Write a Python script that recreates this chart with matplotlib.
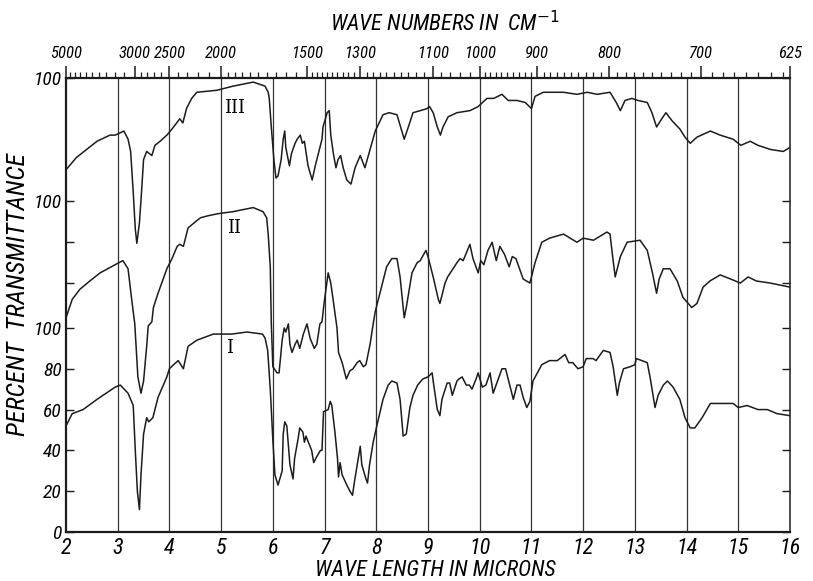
import numpy as np
import matplotlib
matplotlib.use("Agg")
import matplotlib.pyplot as plt
import logging
logging.getLogger("matplotlib.font_manager").setLevel(logging.ERROR)

# --- spectrum I (bottom) : wavelength (microns), % transmittance
wl_1 = [2.0, 2.12, 2.33, 2.6, 2.95, 3.05, 3.2, 3.3, 3.34, 3.38, 3.42, 3.45, 3.5, 3.56,
        3.6, 3.68, 3.78, 3.95, 4.0, 4.08, 4.17, 4.27, 4.36, 4.53, 4.85, 5.2, 5.5, 5.8,
        5.85, 5.9, 5.95, 6.0, 6.04, 6.1, 6.18, 6.2, 6.23, 6.27, 6.33, 6.39, 6.42, 6.49,
        6.52, 6.58, 6.61, 6.64, 6.75, 6.79, 6.85, 6.92, 6.95, 6.98, 7.07, 7.11, 7.14,
        7.2, 7.25, 7.27, 7.3, 7.34, 7.43, 7.49, 7.54, 7.58, 7.65, 7.69, 7.72, 7.8, 7.83,
        7.87, 7.94, 8.01, 8.13, 8.23, 8.3, 8.4, 8.46, 8.52, 8.58, 8.65, 8.71, 8.8, 8.9,
        9.0, 9.08, 9.1, 9.18, 9.23, 9.27, 9.37, 9.42, 9.47, 9.56, 9.6, 9.66, 9.74, 9.8,
        9.85, 9.93, 9.97, 10.05, 10.12, 10.2, 10.26, 10.36, 10.43, 10.5, 10.59, 10.65,
        10.72, 10.78, 10.84, 10.91, 10.97, 11.03, 11.2, 11.35, 11.5, 11.65, 11.72, 11.8,
        11.9, 12.0, 12.06, 12.19, 12.25, 12.39, 12.52, 12.58, 12.66, 12.7, 12.78, 12.91,
        13.0, 13.03, 13.24, 13.3, 13.39, 13.45, 13.55, 13.63, 13.74, 13.87, 13.97, 14.07,
        14.16, 14.3, 14.46, 14.7, 14.9, 15.0, 15.17, 15.38, 15.56, 15.75, 16.0]
t_1 = [52, 58, 60, 65, 71, 72, 68, 62, 40, 20, 11, 28, 48, 56,
       54, 56, 66, 76, 80, 82, 84, 80, 91, 94, 97, 97, 98, 97,
       95, 89, 70, 45, 28, 23, 30, 48, 54, 52, 33, 26, 36, 46,
       51, 49, 44, 47, 40, 34, 37, 40, 40, 59, 60, 64, 62,
       49, 36, 27, 34, 28, 23, 20, 18, 25, 36, 42, 33, 26, 24,
       33, 44, 52, 65, 72, 74, 73, 65, 47, 48, 61, 67, 72, 75,
       76, 78, 74, 60, 57, 65, 73, 73, 67, 74, 75, 76, 72, 72,
       70, 75, 78, 71, 72, 78, 68, 75, 80, 80, 71, 65,
       72, 72, 66, 61, 64, 74, 82, 84, 84, 87, 83, 83,
       80, 81, 85, 85, 84, 89, 88, 81, 67, 73, 80, 81,
       82, 85, 83, 75, 61, 67, 72, 74, 71, 65, 56, 51,
       51, 56, 63, 63, 63, 61, 62, 60, 60, 58, 57]

# --- spectrum II (middle)
wl_2 = [2.0, 2.12, 2.27, 2.46, 2.66, 2.95, 3.1, 3.2, 3.27, 3.33, 3.39, 3.45, 3.5, 3.56,
        3.59, 3.66, 3.69, 3.78, 3.88, 3.95, 4.05, 4.15, 4.2, 4.27, 4.36, 4.5, 4.6, 4.75,
        4.94, 5.23, 5.62, 5.81, 5.88, 5.91, 5.95, 5.97, 6.0, 6.08, 6.12, 6.18, 6.22, 6.25,
        6.3, 6.33, 6.37, 6.43, 6.47, 6.52, 6.59, 6.66, 6.72, 6.8, 6.85, 6.91, 6.95, 6.99,
        7.07, 7.12, 7.17, 7.24, 7.27, 7.34, 7.42, 7.49, 7.55, 7.63, 7.68, 7.75, 7.8, 7.88,
        7.94, 7.98, 8.07, 8.2, 8.3, 8.4, 8.46, 8.54, 8.58, 8.69, 8.79, 8.85, 8.96, 9.0,
        9.1, 9.2, 9.23, 9.33, 9.38, 9.56, 9.62, 9.68, 9.81, 9.87, 9.97, 10.02, 10.08,
        10.16, 10.24, 10.32, 10.39, 10.48, 10.57, 10.63, 10.7, 10.84, 10.97, 11.07, 11.2,
        11.35, 11.62, 11.88, 12.0, 12.2, 12.46, 12.52, 12.58, 12.62, 12.72, 12.85, 13.1,
        13.24, 13.34, 13.42, 13.47, 13.55, 13.68, 13.82, 13.93, 14.1, 14.2, 14.32, 14.45,
        14.65, 14.85, 15.04, 15.19, 15.35, 15.62, 16.0]
t_2 = [43, 52, 57, 61, 65, 69, 71, 67, 52, 40, 14, 6, 12, 29,
       39, 41, 48, 55, 62, 67, 72, 78, 79, 78, 87, 90, 92, 93,
       94, 95, 97, 95, 92, 84, 68, 40, 19, 16, 16, 32, 38, 36,
       40, 30, 26, 30, 32, 28, 35, 40, 33, 28, 30, 40, 41, 50,
       65, 60, 51, 38, 26, 21, 13, 17, 18, 21, 22, 19, 20, 30,
       40, 46, 55, 68, 72, 72, 63, 43, 48, 65, 70, 71, 76, 73,
       63, 52, 50, 60, 63, 70, 72, 71, 79, 72, 65, 71, 69,
       76, 80, 71, 78, 74, 68, 73, 72, 62, 60, 70, 80,
       82, 84, 80, 82, 81, 85, 84, 71, 63, 73, 80, 81,
       76, 65, 55, 62, 67, 67, 61, 53, 48, 50, 58, 61,
       64, 62, 60, 63, 61, 60, 58]

# --- spectrum III (top)
wl_3 = [2.0, 2.2, 2.4, 2.6, 2.85, 2.95, 3.12, 3.2, 3.25, 3.3, 3.34, 3.37, 3.42, 3.46,
        3.5, 3.56, 3.66, 3.72, 3.82, 3.95, 4.05, 4.2, 4.26, 4.33, 4.43, 4.53, 4.92, 5.23,
        5.62, 5.85, 5.91, 5.93, 5.97, 6.02, 6.06, 6.1, 6.16, 6.2, 6.23, 6.25, 6.32, 6.36,
        6.43, 6.47, 6.53, 6.57, 6.61, 6.68, 6.76, 6.82, 6.9, 6.95, 6.97, 7.05, 7.09, 7.12,
        7.17, 7.22, 7.26, 7.31, 7.36, 7.43, 7.51, 7.59, 7.69, 7.78, 7.88, 7.98, 8.13, 8.25,
        8.4, 8.47, 8.54, 8.62, 8.71, 8.85, 8.98, 9.03, 9.1, 9.18, 9.24, 9.29, 9.39, 9.56,
        9.81, 9.97, 10.14, 10.27, 10.43, 10.55, 10.72, 10.88, 11.0, 11.07, 11.23, 11.62,
        11.88, 12.08, 12.27, 12.52, 12.64, 12.72, 12.81, 12.94, 13.06, 13.24, 13.33, 13.42,
        13.52, 13.6, 13.72, 13.87, 13.97, 14.07, 14.2, 14.46, 14.65, 14.9, 15.05, 15.23,
        15.38, 15.62, 15.87, 16.0]
t_3 = [55, 61, 65, 69, 72, 72, 74, 70, 64, 44, 26, 19, 29, 44,
       60, 64, 62, 67, 69, 72, 75, 80, 78, 85, 90, 93, 94, 96,
       98, 96, 93, 90, 76, 60, 51, 52, 60, 70, 74, 66, 57, 63,
       68, 70, 72, 68, 69, 57, 50, 57, 65, 70, 76, 83, 84, 72,
       63, 56, 60, 62, 56, 50, 48, 56, 62, 56, 65, 74, 82, 83,
       82, 76, 70, 76, 83, 84, 85, 86, 83, 76, 72, 76, 81, 83,
       84, 86, 90, 90, 92, 89, 89, 88, 85, 91, 93, 93,
       92, 93, 92, 93, 88, 84, 89, 90, 89, 88, 83, 76,
       80, 83, 79, 75, 71, 68, 71, 74, 72, 70, 67, 69,
       67, 65, 64, 66]

# vertical offsets of the stacked spectra
off_1, off_2, off_3 = 0, 62, 122.5

ytick_pos = [0, 20, 40, 60, 80, 100, 122, 142, 162, 222.5]
ytick_lab = ["0", "20", "40", "60", "80", "100", "", "", "100", "100"]

wn_major = [5000, 3000, 2500, 2000, 1500, 1300, 1100, 1000, 900, 800, 700, 625]

narrow = ["Liberation Sans Narrow", "DejaVu Sans Condensed", "Roboto Condensed",
          "Roboto", "DejaVu Sans"]
ink = "#1c1c1c"

fig = plt.figure(figsize=(8.13, 5.81), dpi=100)
ax = fig.add_axes([66/813, 1 - 532/581, (790 - 66)/813, (532 - 78)/581])

ax.plot(wl_1, np.array(t_1) + off_1, color=ink, lw=1.1)
ax.plot(wl_2, np.array(t_2) + off_2, color=ink, lw=1.1)
ax.plot(wl_3, np.array(t_3) + off_3, color=ink, lw=1.1)

ax.set_xlim(2, 16)
ax.set_ylim(0, 222.5)

for xv in range(3, 16):
    ax.axvline(xv, color="#333333", lw=0.9, zorder=0)

ax.set_xticks(range(2, 17))
ax.set_xticklabels([str(v) for v in range(2, 17)], fontsize=16,
                   family=narrow, style="italic")
ax.tick_params(axis="x", length=0, pad=4)

ax.set_yticks(ytick_pos)
ax.set_yticklabels(ytick_lab, fontsize=14, family=narrow, style="italic")
ax.tick_params(axis="y", direction="in", length=6, width=1, pad=3,
               right=True, color=ink)

for s in ["left", "bottom", "top"]:
    ax.spines[s].set_linewidth(1.6)
ax.spines["right"].set_linewidth(1.1)
for s in ax.spines.values():
    s.set_color(ink)

# wave-number scale on top
top = ax.twiny()
top.set_xlim(2, 16)
top.set_xticks([1e4 / w for w in wn_major])
top.set_xticklabels([str(w) for w in wn_major], fontsize=12,
                    family=narrow, style="italic")
minor_wn = np.concatenate([np.arange(4800, 3000, -200), np.arange(2900, 2000, -100),
                           np.arange(1950, 1500, -50), np.arange(1480, 1000, -20),
                           np.arange(990, 625, -10)])
top.set_xticks([1e4 / w for w in minor_wn], minor=True)
top.tick_params(axis="x", which="major", direction="out", length=9, width=1.1,
                pad=3, color=ink)
top.tick_params(axis="x", which="minor", direction="out", length=4, width=0.9,
                color=ink)
for s in top.spines.values():
    s.set_visible(False)

# curve labels
ax.text(5.25, 208, "III", family="DejaVu Serif", fontsize=13, ha="center", va="center")
ax.text(5.25, 149, "II", family="DejaVu Serif", fontsize=13, ha="center", va="center")
ax.text(5.17, 90, "I", family="DejaVu Serif", fontsize=13, ha="center", va="center")

fig.text(445/813, 1 - 24/581, "WAVE NUMBERS IN  CM$^{-1}$", fontsize=16,
         family=narrow, style="italic", ha="center", va="center")
fig.text(435/813, 1 - 571/581, "WAVE LENGTH IN MICRONS", fontsize=16,
         family=narrow, style="italic", ha="center", va="center")
fig.text(18/813, 1 - 295/581, "PERCENT  TRANSMITTANCE", fontsize=18.5,
         family=narrow, style="italic", ha="center", va="center", rotation=90)

fig.savefig("out.png", dpi=100)
